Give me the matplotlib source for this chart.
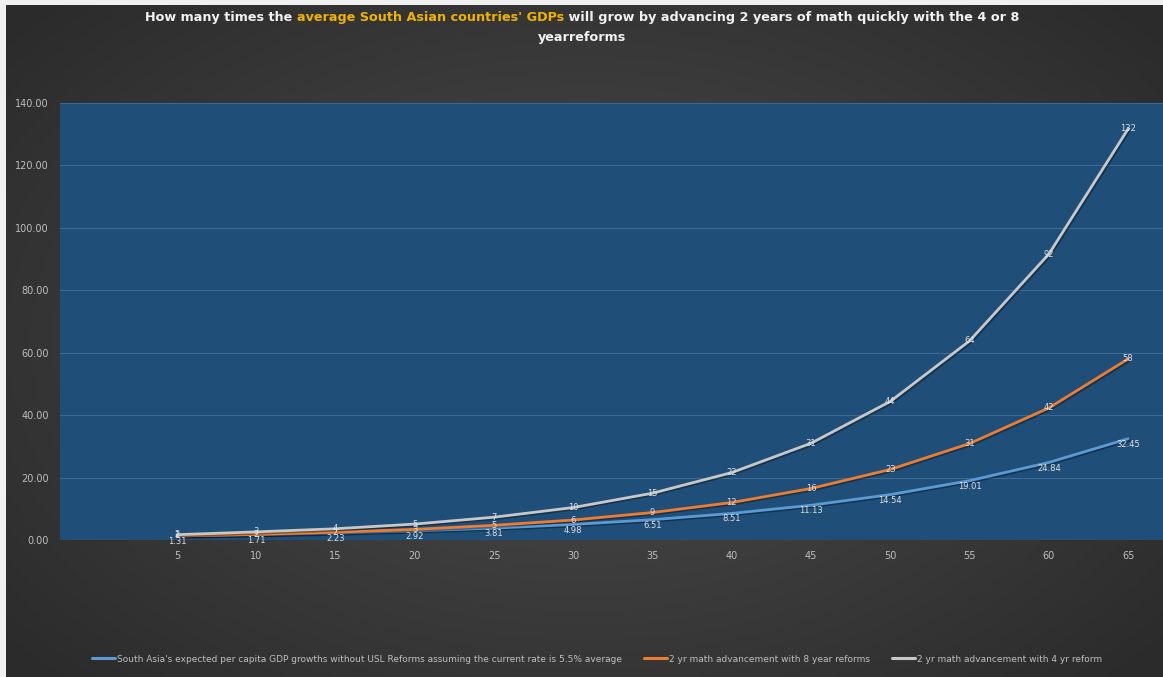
import numpy as np
import matplotlib
matplotlib.use("Agg")
import matplotlib.pyplot as plt
import matplotlib.patheffects as pe

# data
years = [5, 10, 15, 20, 25, 30, 35, 40, 45, 50, 55, 60, 65]
base_growth = [1.31, 1.71, 2.23, 2.92, 3.81, 4.98, 6.51, 8.51, 11.13, 14.54, 19.01, 24.84, 32.45]
reform_8yr = [1.3, 1.8, 2.5, 3.4, 4.7, 6.4, 8.8, 12.0, 16.5, 22.6, 30.9, 42.3, 58.0]
reform_4yr = [1.7, 2.6, 3.6, 5.1, 7.3, 10.4, 15.0, 21.6, 31.0, 44.4, 63.8, 91.6, 131.7]
yticks = [0, 20, 40, 60, 80, 100, 120, 140]

labels = [
    "South Asia's expected per capita GDP growths without USL Reforms assuming the current rate is 5.5% average",
    "2 yr math advancement with 8 year reforms",
    "2 yr math advancement with 4 yr reform",
]
colors = ["#5b9bd5", "#ed7d31", "#c8c8c8"]

W, H = 1163, 677
fig = plt.figure(figsize=(W / 100, H / 100), dpi=100, facecolor="#f0f0f0")

# dark radial-gradient background, leaving a thin light border top/left
bg = fig.add_axes([6 / W, 0, 1 - 6 / W, 1 - 5 / H])
gx, gy = np.meshgrid(np.linspace(-1, 1, 400), np.linspace(-1, 1, 240))
r = np.sqrt(gx ** 2 + (gy * 0.9) ** 2)
shade = 0.30 - 0.13 * np.clip(r, 0, 1.3) / 1.3
bg.imshow(np.dstack([shade] * 3), aspect="auto", extent=[0, 1, 0, 1])
bg.set_axis_off()

ax = fig.add_axes([60 / W, (H - 540) / H, 1 - 60 / W, (540 - 103) / H])
ax.set_facecolor("#1f4e79")
ax.set_xlim(-2.38, 67.2)
ax.set_ylim(0, 140)
ax.set_yticks(yticks)
ax.set_yticklabels([f"{v:.2f}" for v in yticks])
ax.set_xticks(years)
ax.grid(axis="y", color="#3a6a94", linewidth=0.8)
ax.set_axisbelow(True)
for s in ax.spines.values():
    s.set_visible(False)
ax.tick_params(length=0, colors="#bfbfbf", labelsize=7, pad=8)

shadow = [pe.SimpleLineShadow(offset=(1, -1), alpha=0.35), pe.Normal()]
series = [base_growth, reform_8yr, reform_4yr]
for vals, col, lab in zip(series, colors, labels):
    ax.plot(years, vals, color=col, linewidth=2.0, label=lab, path_effects=shadow,
            solid_capstyle="round")

for x, v in zip(years, base_growth):
    ax.annotate(f"{v:.2f}", (x, v), xytext=(0, -4), textcoords="offset points",
                ha="center", va="center", fontsize=6, color="#e0e0e0")
for vals in (reform_8yr, reform_4yr):
    for x, v in zip(years, vals):
        ax.annotate(f"{v:.0f}", (x, v), ha="center", va="center",
                    fontsize=6, color="#e0e0e0")

leg = fig.legend(loc="center", bbox_to_anchor=(597 / W, 18 / H), ncol=3,
                 frameon=False, fontsize=6.5, labelcolor="#bfbfbf",
                 handlelength=2.6, columnspacing=2.4, handletextpad=0.2)
for line in leg.get_lines():
    line.set_linewidth(2.2)
    line.set_path_effects([])

# two-colour title, laid out piece by piece
parts = [("How many times the ", "#f2f2f2"),
         ("average South Asian countries' GDPs", "#f0b400"),
         (" will grow by advancing 2 years of math quickly with the 4 or 8", "#f2f2f2")]
renderer = fig.canvas.get_renderer()
texts = []
for txt, col in parts:
    t = fig.text(0, 1 - 17 / H, txt, color=col, fontsize=9.2, fontweight="bold",
                 va="center", ha="left")
    texts.append(t)
widths = [t.get_window_extent(renderer).width for t in texts]
x0 = 582 - sum(widths) / 2
for t, w in zip(texts, widths):
    t.set_x(x0 / W)
    x0 += w
fig.text(582 / W, 1 - 37 / H, "yearreforms", color="#f2f2f2", fontsize=9.2,
         fontweight="bold", va="center", ha="center")

fig.savefig("out.png", dpi=100, facecolor=fig.get_facecolor())
